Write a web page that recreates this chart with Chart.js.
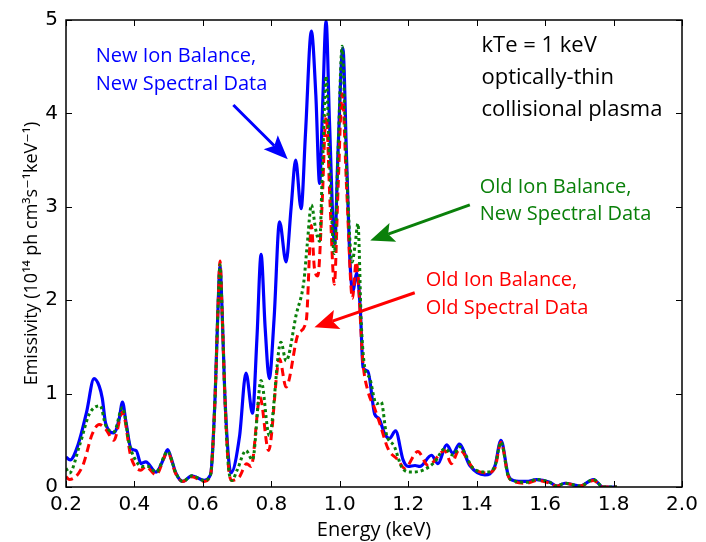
<!DOCTYPE html>
<html>
<head>
<meta charset="utf-8">
<script src="https://cdn.jsdelivr.net/npm/chart.js@4/dist/chart.umd.min.js"></script>
<style>
  body { margin: 0; background: #fff; }
  canvas { display: block; }
</style>
</head>
<body>
<canvas id="spectrum" width="706" height="542"></canvas>
<script>
// energies (keV) and emissivity (1e14 ph cm^3 s^-1 keV^-1)
const newNewEnergy = [0.200, 0.212, 0.235, 0.260, 0.282, 0.297, 0.306, 0.316, 0.340, 0.355, 0.365, 0.375, 0.390, 0.405, 0.419, 0.433, 0.463, 0.485, 0.497, 0.508, 0.521, 0.541, 0.568, 0.604, 0.619, 0.625, 0.636, 0.644, 0.650, 0.656, 0.664, 0.674, 0.682, 0.707, 0.726, 0.745, 0.758, 0.770, 0.782, 0.794, 0.808, 0.824, 0.843, 0.858, 0.871, 0.887, 0.900, 0.917, 0.930, 0.941, 0.950, 0.960, 0.970, 0.985, 0.995, 1.009, 1.020, 1.030, 1.038, 1.050, 1.060, 1.068, 1.082, 1.102, 1.115, 1.131, 1.145, 1.163, 1.185, 1.200, 1.220, 1.234, 1.268, 1.287, 1.312, 1.331, 1.349, 1.380, 1.424, 1.453, 1.471, 1.492, 1.507, 1.546, 1.575, 1.614, 1.634, 1.658, 1.702, 1.741, 1.770, 1.810]
const newNewEmis = [0.32, 0.29, 0.45, 0.80, 1.16, 1.08, 0.95, 0.68, 0.58, 0.72, 0.91, 0.70, 0.41, 0.39, 0.25, 0.27, 0.16, 0.30, 0.40, 0.30, 0.15, 0.06, 0.12, 0.07, 0.11, 0.20, 1.00, 1.90, 2.36, 1.90, 1.00, 0.35, 0.15, 0.54, 1.22, 0.79, 1.60, 2.49, 1.70, 1.16, 1.80, 2.84, 2.41, 3.00, 3.50, 2.98, 3.80, 4.88, 4.20, 3.25, 4.10, 4.99, 3.90, 2.60, 3.60, 4.70, 3.50, 2.40, 2.10, 2.29, 1.90, 1.28, 1.24, 0.78, 0.73, 0.57, 0.52, 0.60, 0.29, 0.22, 0.23, 0.22, 0.34, 0.25, 0.45, 0.36, 0.46, 0.23, 0.13, 0.22, 0.50, 0.13, 0.07, 0.06, 0.08, 0.05, 0.01, 0.04, 0.01, 0.08, 0.00, 0.00]

const oldNewEnergy = [0.200, 0.210, 0.240, 0.268, 0.300, 0.316, 0.340, 0.365, 0.385, 0.400, 0.423, 0.440, 0.463, 0.497, 0.521, 0.541, 0.568, 0.604, 0.619, 0.625, 0.636, 0.644, 0.650, 0.656, 0.664, 0.674, 0.685, 0.700, 0.726, 0.745, 0.770, 0.794, 0.828, 0.843, 0.873, 0.895, 0.905, 0.917, 0.930, 0.941, 0.950, 0.960, 0.970, 0.984, 0.995, 1.007, 1.018, 1.036, 1.045, 1.053, 1.063, 1.073, 1.087, 1.107, 1.121, 1.136, 1.160, 1.180, 1.204, 1.243, 1.278, 1.307, 1.331, 1.350, 1.390, 1.430, 1.453, 1.471, 1.492, 1.507, 1.546, 1.575, 1.614, 1.634, 1.658, 1.702, 1.741, 1.770, 1.810]
const oldNewEmis = [0.20, 0.15, 0.45, 0.78, 0.87, 0.66, 0.59, 0.85, 0.46, 0.31, 0.22, 0.22, 0.16, 0.38, 0.15, 0.06, 0.12, 0.07, 0.11, 0.20, 1.00, 1.90, 2.38, 1.90, 1.00, 0.25, 0.07, 0.18, 0.39, 0.29, 1.14, 0.55, 1.55, 1.35, 1.85, 2.20, 2.60, 3.02, 2.75, 2.63, 3.50, 4.40, 3.50, 2.50, 3.60, 4.72, 3.60, 2.41, 2.60, 2.82, 1.74, 1.28, 1.17, 0.89, 0.91, 0.57, 0.43, 0.22, 0.16, 0.18, 0.27, 0.41, 0.34, 0.43, 0.20, 0.16, 0.22, 0.48, 0.12, 0.07, 0.05, 0.08, 0.05, 0.01, 0.04, 0.01, 0.08, 0.00, 0.00]

const oldOldEnergy = [0.200, 0.210, 0.248, 0.277, 0.297, 0.316, 0.340, 0.365, 0.390, 0.419, 0.433, 0.463, 0.497, 0.521, 0.541, 0.568, 0.604, 0.619, 0.625, 0.636, 0.644, 0.650, 0.656, 0.664, 0.674, 0.685, 0.707, 0.728, 0.741, 0.767, 0.792, 0.824, 0.843, 0.880, 0.902, 0.917, 0.926, 0.936, 0.948, 0.960, 0.972, 0.984, 0.995, 1.007, 1.020, 1.037, 1.048, 1.068, 1.082, 1.102, 1.117, 1.141, 1.170, 1.190, 1.228, 1.258, 1.307, 1.326, 1.349, 1.390, 1.430, 1.453, 1.471, 1.492, 1.507, 1.546, 1.575, 1.614, 1.634, 1.658, 1.702, 1.741, 1.770, 1.810]
const oldOldEmis = [0.11, 0.08, 0.22, 0.57, 0.67, 0.62, 0.50, 0.80, 0.32, 0.18, 0.22, 0.13, 0.37, 0.14, 0.06, 0.11, 0.06, 0.10, 0.20, 1.00, 1.90, 2.42, 1.90, 1.00, 0.25, 0.07, 0.11, 0.25, 0.22, 0.96, 0.39, 1.37, 1.07, 1.65, 1.78, 2.80, 2.34, 2.26, 3.00, 3.97, 3.00, 2.17, 3.20, 4.21, 3.20, 2.02, 2.41, 1.32, 1.03, 0.84, 0.68, 0.41, 0.29, 0.20, 0.38, 0.23, 0.39, 0.25, 0.40, 0.20, 0.15, 0.20, 0.48, 0.12, 0.06, 0.04, 0.07, 0.04, 0.01, 0.04, 0.01, 0.07, 0.00, 0.00]

const xTicks = [0.2, 0.4, 0.6, 0.8, 1.0, 1.2, 1.4, 1.6, 1.8, 2.0]
const yTicks = [0, 1, 2, 3, 4, 5]

const BLUE = '#0000ff'
const GREEN = '#0a800a'
const RED = '#ff0000'
const LABEL_FONT = '"Open Sans", "DejaVu Sans", sans-serif'

// text blocks and arrows, placed in data coordinates
const notes = [
  { lines: ['New Ion Balance,', 'New Spectral Data'], x: 0.287, y: 4.614, step: 28.4, size: 20, color: BLUE },
  { lines: ['kTe = 1 keV', 'optically-thin', 'collisional plasma'], x: 1.414, y: 4.72, step: 31.7, size: 22, color: '#000' },
  { lines: ['Old Ion Balance,', 'New Spectral Data'], x: 1.409, y: 3.213, step: 27.7, size: 20, color: GREEN },
  { lines: ['Old Ion Balance,', 'Old Spectral Data'], x: 1.251, y: 2.21, step: 27.4, size: 20, color: RED },
]
const arrows = [
  { from: [0.689, 4.09], to: [0.848, 3.51], color: BLUE },
  { from: [1.380, 3.02], to: [1.089, 2.64], color: GREEN },
  { from: [1.219, 2.08], to: [0.926, 1.71], color: RED },
]

const pts = (xs, ys) => xs.map((x, i) => ({ x: x, y: ys[i] }))

function drawArrow(ctx, x0, y0, x1, y1, color) {
  const len = Math.hypot(x1 - x0, y1 - y0)
  const ux = (x1 - x0) / len, uy = (y1 - y0) / len
  const nx = -uy, ny = ux
  const L = 24, W = 10, notch = 5
  ctx.strokeStyle = color
  ctx.fillStyle = color
  ctx.lineWidth = 3
  ctx.setLineDash([])
  ctx.beginPath()
  ctx.moveTo(x0, y0)
  ctx.lineTo(x1 - (L - notch) * ux, y1 - (L - notch) * uy)
  ctx.stroke()
  ctx.beginPath()
  ctx.moveTo(x1, y1)
  ctx.lineTo(x1 - L * ux + W * nx, y1 - L * uy + W * ny)
  ctx.lineTo(x1 - (L - notch) * ux, y1 - (L - notch) * uy)
  ctx.lineTo(x1 - L * ux - W * nx, y1 - L * uy - W * ny)
  ctx.closePath()
  ctx.fill()
}

const frameAndNotes = {
  id: 'frameAndNotes',
  afterDatasetsDraw(chart) {
    const { ctx, chartArea: a, scales: { x, y } } = chart
    ctx.save()
    // inward ticks on all four sides
    ctx.strokeStyle = '#000'
    ctx.lineWidth = 1
    ctx.beginPath()
    xTicks.forEach(v => {
      const px = Math.round(x.getPixelForValue(v)) + 0.5
      ctx.moveTo(px, a.bottom); ctx.lineTo(px, a.bottom - 6)
      ctx.moveTo(px, a.top); ctx.lineTo(px, a.top + 6)
    })
    yTicks.forEach(v => {
      const py = Math.round(y.getPixelForValue(v)) + 0.5
      ctx.moveTo(a.left, py); ctx.lineTo(a.left + 6, py)
      ctx.moveTo(a.right, py); ctx.lineTo(a.right - 6, py)
    })
    ctx.stroke()
    ctx.lineWidth = 1.5
    ctx.strokeRect(a.left, a.top, a.right - a.left, a.bottom - a.top)

    arrows.forEach(ar => {
      drawArrow(ctx,
        x.getPixelForValue(ar.from[0]), y.getPixelForValue(ar.from[1]),
        x.getPixelForValue(ar.to[0]), y.getPixelForValue(ar.to[1]), ar.color)
    })

    ctx.textAlign = 'left'
    ctx.textBaseline = 'middle'
    notes.forEach(n => {
      ctx.font = n.size + 'px ' + LABEL_FONT
      ctx.fillStyle = n.color
      const px = x.getPixelForValue(n.x)
      const py = y.getPixelForValue(n.y)
      n.lines.forEach((t, i) => ctx.fillText(t, px, py + i * n.step))
    })
    ctx.restore()
  }
}

const config = {
  type: 'line',
  data: {
    datasets: [
      {
        label: 'Old Ion Balance, New Spectral Data',
        data: pts(oldNewEnergy, oldNewEmis),
        borderColor: GREEN,
        borderWidth: 3,
        borderDash: [3, 3],
        order: 0
      },
      {
        label: 'Old Ion Balance, Old Spectral Data',
        data: pts(oldOldEnergy, oldOldEmis),
        borderColor: RED,
        borderWidth: 3,
        borderDash: [8, 5],
        order: 1
      },
      {
        label: 'New Ion Balance, New Spectral Data',
        data: pts(newNewEnergy, newNewEmis),
        borderColor: BLUE,
        borderWidth: 3.2,
        order: 2
      }
    ]
  },
  options: {
    responsive: false,
    animation: false,
    devicePixelRatio: 1,
    layout: { padding: { top: 17, right: 24, left: 0, bottom: 0 } },
    elements: {
      point: { radius: 0 },
      line: { cubicInterpolationMode: 'monotone', fill: false }
    },
    plugins: { legend: { display: false }, tooltip: { enabled: false } },
    scales: {
      x: {
        type: 'linear',
        min: 0.2,
        max: 2.0,
        afterFit: s => { s.height = 55 },
        afterBuildTicks: s => { s.ticks = xTicks.map(v => ({ value: v })) },
        grid: { display: false, drawTicks: false },
        border: { display: false },
        ticks: {
          autoSkip: false,
          maxRotation: 0,
          padding: 6,
          color: '#000',
          font: { family: '"DejaVu Sans"', size: 20 },
          callback: v => v.toFixed(1)
        },
        title: {
          display: true,
          text: 'Energy (keV)',
          color: '#000',
          font: { family: LABEL_FONT, size: 20 },
          padding: { top: 0, bottom: 0 }
        }
      },
      y: {
        min: 0,
        max: 5,
        afterFit: s => { s.width = 66 },
        afterBuildTicks: s => { s.ticks = yTicks.map(v => ({ value: v })) },
        grid: { display: false, drawTicks: false },
        border: { display: false },
        ticks: {
          padding: 8,
          color: '#000',
          font: { family: '"DejaVu Sans"', size: 20 },
          callback: v => String(v)
        },
        title: {
          display: true,
          text: 'Emissivity (10¹⁴ ph cm³s⁻¹keV⁻¹)',
          color: '#000',
          font: { family: LABEL_FONT, size: 18 },
          padding: { top: 21, bottom: 0 }
        }
      }
    }
  },
  plugins: [frameAndNotes]
}

const spectrumChart = new Chart(document.getElementById('spectrum'), config)
</script>
</body>
</html>
